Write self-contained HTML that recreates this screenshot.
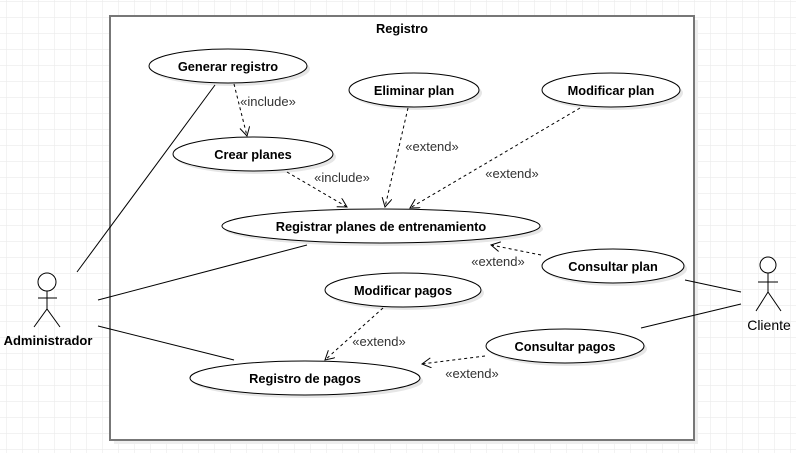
<!DOCTYPE html>
<html><head><meta charset="utf-8"><style>
html,body{margin:0;padding:0;background:#fff;}
svg{display:block;}
text{font-family:"Liberation Sans",Arial,sans-serif;}
.uc{font-size:12.8px;font-weight:bold;fill:#000;}
.lb{font-size:13px;fill:#333;}
</style></head><body>
<svg width="796" height="453" viewBox="0 0 796 453" xmlns="http://www.w3.org/2000/svg">
<defs>
<pattern id="g" width="16" height="16" patternUnits="userSpaceOnUse" x="6" y="1">
<path d="M0 0H16M0 0V16" stroke="#ebebeb" stroke-width="1.2" fill="none"/>
</pattern>
<marker id="a" markerWidth="12" markerHeight="12" refX="10" refY="5" orient="auto" markerUnits="userSpaceOnUse">
<path d="M1 0 L10 5 L1 10" fill="none" stroke="#000" stroke-width="1"/>
</marker>
</defs>
<rect width="796" height="453" fill="#fff"/>
<rect width="796" height="453" fill="url(#g)"/>
<rect x="114" y="20" width="584" height="424" fill="#eee"/>
<rect x="110" y="16" width="584" height="424" fill="#fff" stroke="#777" stroke-width="2"/>
<text x="402" y="33" text-anchor="middle" class="uc">Registro</text>

<g fill="#e6e6e6">
<ellipse cx="231" cy="69" rx="79" ry="17"/>
<ellipse cx="417" cy="93" rx="65" ry="17"/>
<ellipse cx="614" cy="93" rx="69" ry="17"/>
<ellipse cx="256" cy="157" rx="80" ry="17"/>
<ellipse cx="384" cy="229" rx="159" ry="17"/>
<ellipse cx="616" cy="269" rx="71" ry="17"/>
<ellipse cx="406" cy="293" rx="78" ry="17"/>
<ellipse cx="568" cy="349" rx="79" ry="17"/>
<ellipse cx="308" cy="381" rx="115" ry="17"/>
</g>
<g fill="#fff" stroke="#000" stroke-width="1">
<ellipse cx="228" cy="66" rx="79" ry="17"/>
<ellipse cx="414" cy="90" rx="65" ry="17"/>
<ellipse cx="611" cy="90" rx="69" ry="17"/>
<ellipse cx="253" cy="154" rx="80" ry="17"/>
<ellipse cx="381" cy="226" rx="159" ry="17"/>
<ellipse cx="613" cy="266" rx="71" ry="17"/>
<ellipse cx="403" cy="290" rx="78" ry="17"/>
<ellipse cx="565" cy="346" rx="79" ry="17"/>
<ellipse cx="305" cy="378" rx="115" ry="17"/>
</g>
<g class="uc" text-anchor="middle">
<text x="228" y="71">Generar registro</text>
<text x="414" y="95">Eliminar plan</text>
<text x="611" y="95">Modificar plan</text>
<text x="253" y="159">Crear planes</text>
<text x="381" y="231">Registrar planes de entrenamiento</text>
<text x="613" y="271">Consultar plan</text>
<text x="403" y="295">Modificar pagos</text>
<text x="565" y="351">Consultar pagos</text>
<text x="305" y="383">Registro de pagos</text>
</g>

<g stroke="#000" stroke-width="1" fill="none">
<line x1="77" y1="272" x2="215" y2="85"/>
<line x1="98" y1="300" x2="307" y2="245"/>
<line x1="98" y1="326" x2="234" y2="360"/>
<line x1="685" y1="280" x2="741" y2="292"/>
<line x1="641" y1="328" x2="741" y2="304"/>
</g>
<g stroke="#000" stroke-width="1" fill="none" stroke-dasharray="3,3" marker-end="url(#a)">
<line x1="234" y1="84" x2="247" y2="136"/>
<line x1="287" y1="172" x2="347" y2="207"/>
<line x1="408" y1="108" x2="385" y2="207"/>
<line x1="580" y1="108" x2="410" y2="208"/>
<line x1="541" y1="255" x2="491" y2="245"/>
<line x1="383" y1="308" x2="325" y2="360"/>
<line x1="485" y1="356" x2="422" y2="364"/>
</g>
<g class="lb" text-anchor="middle">
<text x="268" y="106">«include»</text>
<text x="342" y="182">«include»</text>
<text x="432" y="151">«extend»</text>
<text x="512" y="178">«extend»</text>
<text x="498" y="266">«extend»</text>
<text x="379" y="346">«extend»</text>
<text x="472" y="378">«extend»</text>
</g>

<g stroke="#000" stroke-width="1" fill="none">
<circle cx="47" cy="282" r="9" fill="#fff"/>
<line x1="47" y1="291" x2="47" y2="309"/>
<line x1="38" y1="298" x2="57" y2="298"/>
<path d="M34 327 L47 309 L60 327"/>
<circle cx="768" cy="265" r="8" fill="#fff"/>
<line x1="768" y1="273" x2="768" y2="292"/>
<line x1="758" y1="282" x2="778" y2="282"/>
<path d="M756 311 L768 292 L781 311"/>
</g>
<text x="48" y="345" text-anchor="middle" style="font-size:13px;font-weight:bold">Administrador</text>
<text x="769" y="330" text-anchor="middle" style="font-size:14px;">Cliente</text>
</svg>
</body></html>
